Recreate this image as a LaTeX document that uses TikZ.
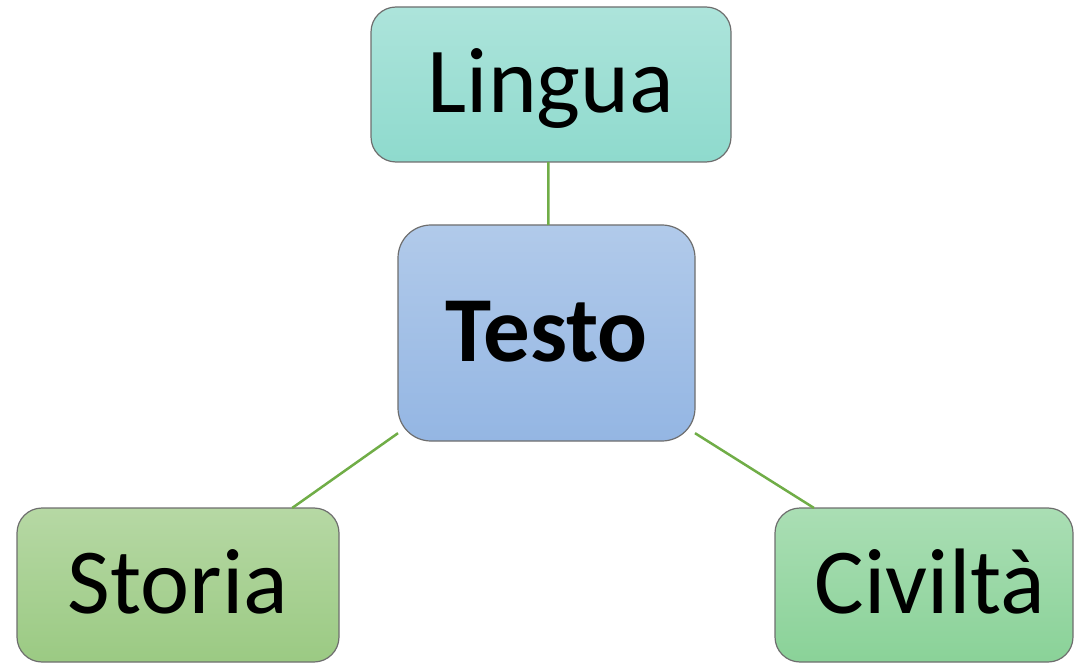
\documentclass[tikz,border=0pt]{standalone}
\usepackage{fontspec}
\setmainfont{Carlito}
\usepackage{xcolor}
\usetikzlibrary{calc}

\definecolor{boxedge}{HTML}{6E6E6E}
\definecolor{linkgreen}{HTML}{70AD47}
\definecolor{linguatop}{HTML}{ADE4DB}
\definecolor{linguabot}{HTML}{8EDACD}
\definecolor{testotop}{HTML}{B1CAEA}
\definecolor{testobot}{HTML}{94B6E3}
\definecolor{storiatop}{HTML}{B6D8A4}
\definecolor{storiabot}{HTML}{9BCA83}
\definecolor{civiltatop}{HTML}{AADEB4}
\definecolor{civiltabot}{HTML}{8AD298}

\begin{document}
\begin{tikzpicture}[x=1pt,y=-1pt,
		box/.style={draw=boxedge, line width=1.2pt, rounded corners=25pt, inner sep=0pt, outer sep=0pt,
			text height=56pt, text depth=0pt, font=\fontsize{93}{100}\selectfont},
		link/.style={draw=linkgreen, line width=2.5pt}]
			\useasboundingbox (0,0) rectangle (1074,663);

			\def\sh{154};

			% centre box and the three around it
			\node [box, rounded corners=33pt, minimum width=297pt, minimum height=216pt,
				top color=testotop, bottom color=testobot, font=\fontsize{93}{100}\selectfont\bfseries]
				(testo) at (546.5,333) {Testo};
			\node [box, minimum width=360pt, minimum height=155pt,
				top color=linguatop, bottom color=linguabot] (lingua) at (551,84.5) {Lingua};
			\node [box, minimum width=322pt, minimum height=\sh pt,
				top color=storiatop, bottom color=storiabot] (storia) at (178,585) {Storia};
			\node [box, minimum width=298pt, minimum height=\sh pt,
				top color=civiltatop, bottom color=civiltabot] (civilta) at (924,585) {\hspace*{12pt}Civiltà};

			\begin{scope}
				\draw [link] (lingua.268.5) -- (testo.89.2);
				\draw [link] (testo.214.5) -- (storia.34);
				\draw [link] (testo.326.9) -- (civilta.145.3);
			\end{scope}
		\end{tikzpicture}
\end{document}
